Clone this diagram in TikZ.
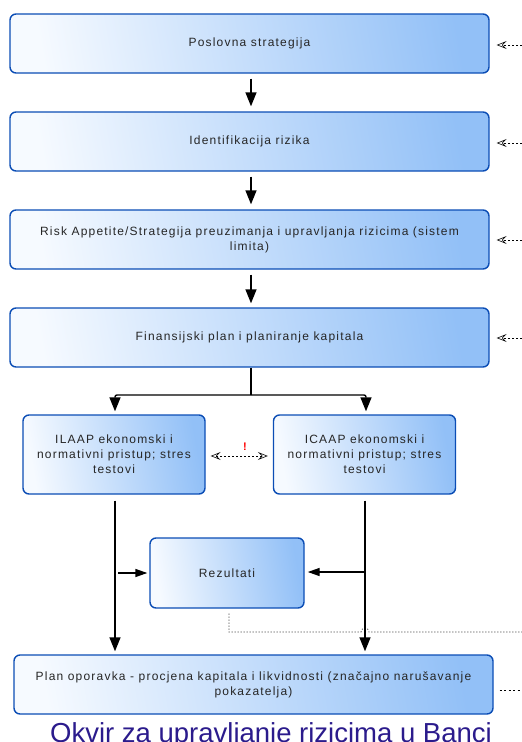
\documentclass[tikz,border=0pt]{standalone}
\usepackage{fontspec}
\setmainfont{Liberation Sans}
\newfontfamily\boxfont[LetterSpace=10]{Liberation Sans}
\usetikzlibrary{arrows.meta}
\definecolor{boxborder}{HTML}{0B4DB5}
\definecolor{boxblue}{HTML}{92C0F7}
\definecolor{boxlight}{HTML}{F6FAFF}
\definecolor{captioncol}{HTML}{2B1B8C}
\definecolor{textcol}{HTML}{262626}
\tikzset{
  procbox/.style={draw=boxborder, line width=1.4pt, rounded corners=6pt,
    left color=boxlight, right color=boxblue, shading angle=100,
    text=textcol, align=center, inner sep=0pt,
    font=\boxfont\fontsize{12}{15}\selectfont},
  flow/.style={draw=black, line width=1.4pt, -{Triangle[length=14pt,width=11pt]}},
  plainline/.style={draw=black, line width=1.4pt},
  opentip/.style={Stealth[open,length=10pt,width=8pt,inset=4pt,line width=0.6pt]},
  feedback/.style={draw=black, line width=0.6pt, dash pattern=on 2pt off 2pt,
    -{Stealth[open,length=10pt,width=8pt,inset=4pt]}},
  dottedline/.style={draw=black, line width=0.7pt, dash pattern=on 1pt off 2pt},
}
\begin{document}
\begin{tikzpicture}[x=1pt,y=-1pt]
\useasboundingbox (0,0) rectangle (522,742);
% main boxes
\node[procbox, minimum width=479pt, minimum height=59pt] (b1) at (249.5,43.5) {Poslovna strategija};
\node[procbox, minimum width=479pt, minimum height=59pt] (b2) at (249.5,141.5) {Identifikacija rizika};
\node[procbox, minimum width=479pt, minimum height=59pt] (b3) at (249.5,239.5) {Risk Appetite/Strategija preuzimanja i upravljanja rizicima (sistem\\limita)};
\node[procbox, minimum width=479pt, minimum height=59pt] (b4) at (249.5,337.5) {Finansijski plan i planiranje kapitala};
\node[procbox, minimum width=182pt, minimum height=79pt] (ilaap) at (114,454.5) {ILAAP ekonomski i\\normativni pristup; stres\\testovi};
\node[procbox, minimum width=182pt, minimum height=79pt] (icaap) at (364.5,454.5) {ICAAP ekonomski i\\normativni pristup; stres\\testovi};
\node[procbox, minimum width=154pt, minimum height=70pt] (rez) at (227,573) {Rezultati};
\node[procbox, minimum width=479pt, minimum height=59pt] (plan) at (253.5,684.5) {Plan oporavka - procjena kapitala i likvidnosti (značajno narušavanje\\pokazatelja)};
% caption
\node[anchor=base, text=captioncol, font=\fontsize{27.5}{30}\selectfont, inner sep=0pt] (cap) at (271,742) {Okvir za upravljanje rizicima u Banci};
% vertical flow
\draw[flow, shorten <=5pt, shorten >=5pt] (b1.south -| 251,0) -- (b2.north -| 251,0);
\draw[flow, shorten <=5pt, shorten >=5pt] (b2.south -| 251,0) -- (b3.north -| 251,0);
\draw[flow, shorten <=5pt, shorten >=4pt] (b3.south -| 251,0) -- (b4.north -| 251,0);
% branch
\coordinate (split) at (251,395);
\draw[plainline] (b4.south -| 251,0) -- (split);
\draw[flow, rounded corners=2pt, shorten >=3pt] (split) -- (115,395) -- (ilaap.north -| 115,0);
\draw[flow, rounded corners=2pt, shorten >=3pt] (split) -- (366,395) -- (icaap.north -| 366,0);
% dashed double arrow
\draw[draw=black, line width=0.6pt, dash pattern=on 2pt off 2pt,
  {Stealth[open,length=10pt,width=8pt,inset=4pt]}-{Stealth[open,length=10pt,width=8pt,inset=4pt]},
  shorten <=5pt, shorten >=5pt] (ilaap.east |- 0,456) -- (icaap.west |- 0,456);
\node[text=red, font=\bfseries\fontsize{11}{11}\selectfont, inner sep=0pt] (excl) at (245,447) {!};
% down lines to plan
\draw[flow, shorten <=6pt, shorten >=3pt] (ilaap.south -| 115,0) -- (plan.north -| 115,0);
\draw[flow, shorten <=6pt, shorten >=3pt] (icaap.south -| 365,0) -- (plan.north -| 365,0);
% arrows into Rezultati
\coordinate (lj) at (118,573);
\coordinate (rj) at (365,572);
\draw[flow, -{Triangle[length=12pt,width=8pt]}, shorten >=2pt] (lj) -- (rez.west |- lj);
\draw[flow, -{Triangle[length=12pt,width=8pt]}, shorten >=3pt] (rj) -- (rez.east |- rj);
% dotted line from Rezultati with hop
\coordinate (dend) at (526,632);
\draw[dottedline] (rez.south -| 229,0) ++(0,5) -- (229,632) -- (361,632) arc[start angle=180, end angle=0, radius=4pt] -- (dend);
% dotted from plan
\coordinate (pend) at (526,690);
\draw[dottedline, dash pattern=on 2pt off 2.5pt, shorten <=6pt] (plan.east |- pend) -- (pend);
% feedback arrows on right
\coordinate (f1) at (526,45);
\coordinate (f2) at (526,143);
\coordinate (f3) at (526,240);
\coordinate (f4) at (526,338);
\draw[feedback, shorten >=7pt] (f1) -- (b1.east |- f1);
\draw[feedback, shorten >=7pt] (f2) -- (b2.east |- f2);
\draw[feedback, shorten >=7pt] (f3) -- (b3.east |- f3);
\draw[feedback, shorten >=7pt] (f4) -- (b4.east |- f4);
\end{tikzpicture}
\end{document}
